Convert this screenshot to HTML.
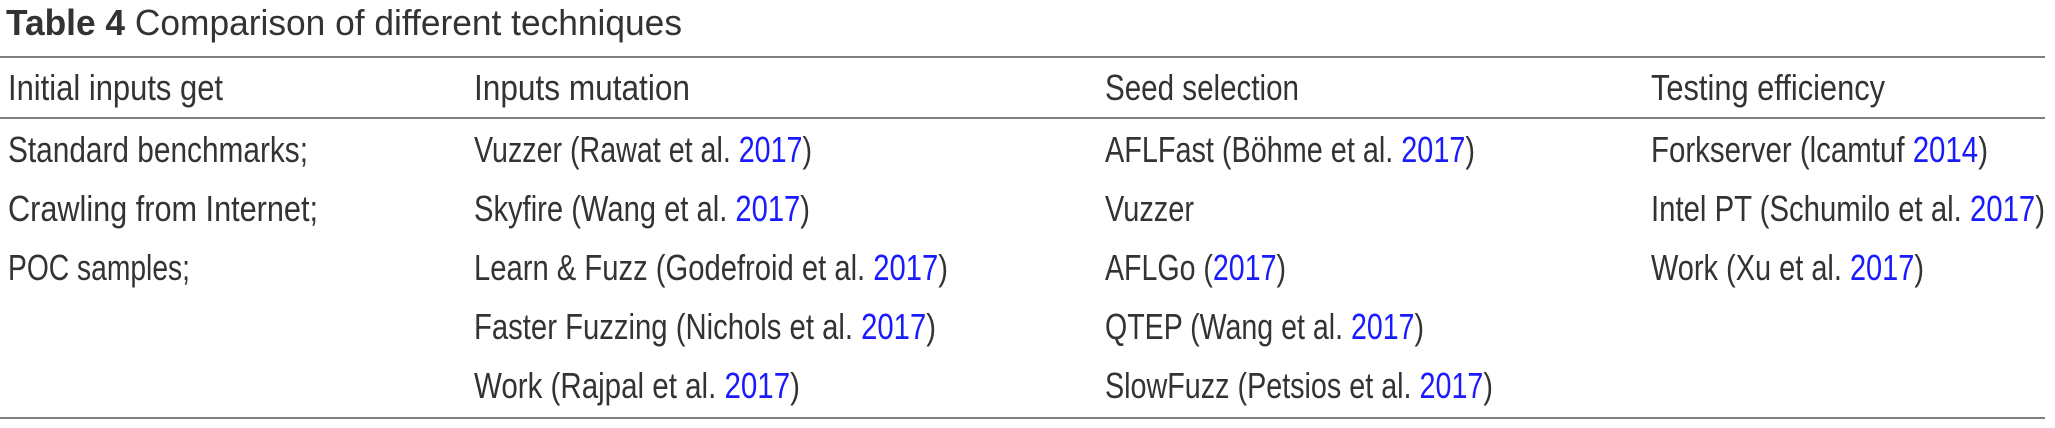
<!DOCTYPE html>
<html><head><meta charset="utf-8"><style>
html,body{margin:0;padding:0;background:#fff;width:2055px;height:428px;overflow:hidden}
svg text{font-family:"Liberation Sans",sans-serif;font-size:36px;fill:#333}
.b{fill:#1a1aff}
</style></head><body>
<svg width="2055" height="428">
<text x="6" y="35" textLength="676" lengthAdjust="spacingAndGlyphs"><tspan font-weight="bold">Table 4</tspan> Comparison of different techniques</text>
<line x1="0" y1="57" x2="2045" y2="57" stroke="#555" stroke-width="1.4"/>
<g>
<text x="8" y="100" textLength="215" lengthAdjust="spacingAndGlyphs">Initial inputs get</text>
<text x="474" y="100" textLength="216" lengthAdjust="spacingAndGlyphs">Inputs mutation</text>
<text x="1105" y="100" textLength="194" lengthAdjust="spacingAndGlyphs">Seed selection</text>
<text x="1651" y="100" textLength="234" lengthAdjust="spacingAndGlyphs">Testing efficiency</text>
</g>
<line x1="0" y1="118" x2="2045" y2="118" stroke="#555" stroke-width="1.4"/>
<g>
<text x="8" y="162" textLength="300" lengthAdjust="spacingAndGlyphs">Standard benchmarks;</text>
<text x="8" y="221" textLength="310" lengthAdjust="spacingAndGlyphs">Crawling from Internet;</text>
<text x="8" y="280" textLength="182" lengthAdjust="spacingAndGlyphs">POC samples;</text>
</g>
<g>
<text x="474" y="162" textLength="338" lengthAdjust="spacingAndGlyphs">Vuzzer (Rawat et al. <tspan class="b">2017</tspan>)</text>
<text x="474" y="221" textLength="336" lengthAdjust="spacingAndGlyphs">Skyfire (Wang et al. <tspan class="b">2017</tspan>)</text>
<text x="474" y="280" textLength="474" lengthAdjust="spacingAndGlyphs">Learn &amp; Fuzz (Godefroid et al. <tspan class="b">2017</tspan>)</text>
<text x="474" y="339" textLength="462" lengthAdjust="spacingAndGlyphs">Faster Fuzzing (Nichols et al. <tspan class="b">2017</tspan>)</text>
<text x="474" y="398" textLength="326" lengthAdjust="spacingAndGlyphs">Work (Rajpal et al. <tspan class="b">2017</tspan>)</text>
</g>
<g>
<text x="1105" y="162" textLength="370" lengthAdjust="spacingAndGlyphs">AFLFast (Böhme et al. <tspan class="b">2017</tspan>)</text>
<text x="1105" y="221" textLength="89" lengthAdjust="spacingAndGlyphs">Vuzzer</text>
<text x="1105" y="280" textLength="181" lengthAdjust="spacingAndGlyphs">AFLGo (<tspan class="b">2017</tspan>)</text>
<text x="1105" y="339" textLength="319" lengthAdjust="spacingAndGlyphs">QTEP (Wang et al. <tspan class="b">2017</tspan>)</text>
<text x="1105" y="398" textLength="388" lengthAdjust="spacingAndGlyphs">SlowFuzz (Petsios et al. <tspan class="b">2017</tspan>)</text>
</g>
<g>
<text x="1651" y="162" textLength="337" lengthAdjust="spacingAndGlyphs">Forkserver (lcamtuf <tspan class="b">2014</tspan>)</text>
<text x="1651" y="221" textLength="394" lengthAdjust="spacingAndGlyphs">Intel PT (Schumilo et al. <tspan class="b">2017</tspan>)</text>
<text x="1651" y="280" textLength="273" lengthAdjust="spacingAndGlyphs">Work (Xu et al. <tspan class="b">2017</tspan>)</text>
</g>
<line x1="0" y1="418" x2="2045" y2="418" stroke="#555" stroke-width="1.4"/>
</svg>
</body></html>
